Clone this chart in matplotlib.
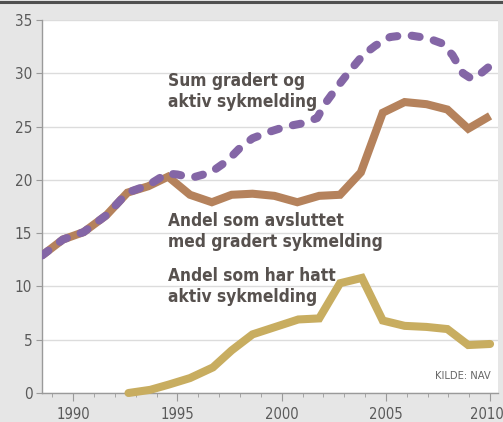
import matplotlib
matplotlib.use("Agg")
import matplotlib.pyplot as plt
from matplotlib import font_manager as fm
from matplotlib.ticker import MultipleLocator
from matplotlib.transforms import ScaledTranslation

# -------------------------------
# DATA
# -------------------------------
gradert_years = [1988.5, 1989.5, 1990.5, 1991.6, 1992.6, 1993.6, 1994.55, 1995.6,
                 1996.65, 1997.6, 1998.6, 1999.65, 2000.75, 2001.8, 2002.8, 2003.8,
                 2004.85, 2005.9, 2006.95, 2007.95, 2008.95, 2010.0]
gradert_vals = [12.9, 14.4, 15.1, 16.7, 18.8, 19.4, 20.3, 18.6,
                17.9, 18.6, 18.7, 18.5, 17.9, 18.5, 18.6, 20.7,
                26.3, 27.3, 27.1, 26.6, 24.8, 26.0]

sum_years = [1988.5, 1989.5, 1990.5, 1991.6, 1992.6, 1993.6, 1994.5, 1995.0,
             1995.7, 1996.6, 1997.4, 1998.0, 1998.6, 1999.4, 2000.2, 2001.0,
             2001.7, 2002.1, 2002.7, 2003.3, 2003.9, 2004.5, 2005.2, 2006.0,
             2007.0, 2007.7, 2008.2, 2008.7, 2009.1, 2009.5, 2010.0]
sum_vals = [12.9, 14.4, 15.1, 16.7, 18.8, 19.5, 20.6, 20.5,
            20.2, 20.7, 21.8, 23.0, 23.9, 24.5, 25.0, 25.3,
            25.8, 27.2, 28.8, 30.3, 31.7, 32.6, 33.4, 33.6,
            33.3, 32.8, 31.7, 30.0, 29.5, 29.9, 30.7]

aktiv_years = [1992.65, 1993.7, 1994.6, 1995.6, 1996.7, 1997.6, 1998.6, 1999.7,
               2000.8, 2001.8, 2002.8, 2003.85, 2004.85, 2005.9, 2006.95, 2007.95,
               2008.95, 2010.0]
aktiv_vals = [0.0, 0.3, 0.8, 1.4, 2.4, 4.0, 5.5, 6.2,
              6.9, 7.0, 10.3, 10.8, 6.8, 6.3, 6.2, 6.0,
              4.5, 4.6]

label_sum = "Sum gradert og\naktiv sykmelding"
label_gradert = "Andel som avsluttet\nmed gradert sykmelding"
label_aktiv = "Andel som har hatt\naktiv sykmelding"
source = "KILDE: NAV"

# -------------------------------
# FONTS: look for a narrow/condensed face, else DejaVu
# -------------------------------
def find_condensed(bold):
    best = None
    for f in fm.fontManager.ttflist:
        name = f.name.lower()
        path = f.fname.lower()
        narrow = (f.stretch in ("condensed", "semi-condensed", "extra-condensed")
                  or "condensed" in name or "narrow" in name
                  or "condensed" in path or "narrow" in path)
        if not narrow or "mono" in name or "serif" in name and "sans" not in name:
            continue
        w = f.weight if isinstance(f.weight, int) else {"bold": 700, "normal": 400}.get(f.weight, 400)
        if "italic" in path or f.style != "normal":
            continue
        score = abs(w - (700 if bold else 400))
        if best is None or score < best[0]:
            best = (score, f.fname, f.name)
    return best


cond_bold = find_condensed(True)
cond_reg = find_condensed(False)
if cond_bold:
    FP_BOLD = fm.FontProperties(fname=cond_bold[1], size=12.4)
    FP_YTICK = fm.FontProperties(fname=cond_reg[1], size=11)
    FP_XTICK = fm.FontProperties(fname=cond_reg[1], size=10.6)
    FP_SRC = fm.FontProperties(fname=cond_reg[1], size=8)
else:
    FP_BOLD = fm.FontProperties(family="DejaVu Sans", weight="bold", size=10.5)
    FP_YTICK = fm.FontProperties(family="DejaVu Sans", size=10)
    FP_XTICK = fm.FontProperties(family="DejaVu Sans", size=9.5)
    FP_SRC = fm.FontProperties(family="DejaVu Sans", size=6.5)

# -------------------------------
# STYLE
# -------------------------------
BG = "#e6e6e6"
PURPLE = "#8466a6"
BROWN = "#b5825c"
GOLD = "#c8ad60"
TEXT = "#57514e"
TICK = "#5a5a5a"

fig = plt.figure(figsize=(5.03, 4.22), dpi=100, facecolor=BG)
ax = fig.add_axes([42 / 503, 29 / 422, 456 / 503, 373 / 422])
ax.set_facecolor("white")

# top border line
fig.add_artist(plt.Line2D([0, 1], [1 - 1.5 / 422, 1 - 1.5 / 422],
                          transform=fig.transFigure, color="#505050", lw=2.2))

ax.set_xlim(1988.5, 2010.38)
ax.set_ylim(0, 35)

ax.yaxis.set_major_locator(MultipleLocator(5))
ax.xaxis.set_major_locator(MultipleLocator(5))
ax.xaxis.set_minor_locator(MultipleLocator(1))
ax.grid(axis="y", color="#dcdcdc", lw=1.0)
ax.set_axisbelow(True)

for side in ["top", "right"]:
    ax.spines[side].set_visible(False)
for side in ["left", "bottom"]:
    ax.spines[side].set_color("#9a9a9a")
    ax.spines[side].set_linewidth(1.0)

ax.tick_params(axis="y", which="major", length=4, color="#9a9a9a", pad=3,
               labelcolor=TICK)
ax.tick_params(axis="x", which="major", length=6, color="#9a9a9a", pad=4,
               labelcolor=TICK)
ax.tick_params(axis="x", which="minor", length=3, color="#9a9a9a")
fig.canvas.draw()
for lab in ax.get_xticklabels():
    lab.set_fontproperties(FP_XTICK)
for lab in ax.get_yticklabels():
    lab.set_fontproperties(FP_YTICK)

# nudge the last year label so it stays inside the picture
last = ax.xaxis.get_major_ticks()[-1]
for t in ax.xaxis.get_major_ticks():
    if abs(t.get_loc() - 2010) < 0.01:
        last = t
last.label1.set_transform(last.label1.get_transform()
                          + ScaledTranslation(-3 / 100, 0, fig.dpi_scale_trans))

# lines
ax.plot(gradert_years, gradert_vals, color=BROWN, lw=5.8,
        solid_joinstyle="miter", solid_capstyle="butt", zorder=3)
ax.plot(aktiv_years, aktiv_vals, color=GOLD, lw=5.8,
        solid_joinstyle="miter", solid_capstyle="round", zorder=3, clip_on=False)
ax.plot(sum_years, sum_vals, color=PURPLE, lw=5.8, dashes=(1.0, 1.8),
        dash_capstyle="round", zorder=4)

# labels
lab_kw = dict(fontproperties=FP_BOLD, color=TEXT, linespacing=1.22,
              va="top", ha="left")
ax.text(1994.55, 30.1, label_sum, **lab_kw)
ax.text(1994.55, 17.0, label_gradert, **lab_kw)
ax.text(1994.55, 11.8, label_aktiv, **lab_kw)

ax.text(2010.05, 1.1, source, fontproperties=FP_SRC, color="#666666",
        ha="right", va="bottom")

fig.savefig("out.png", dpi=100, facecolor=BG)
